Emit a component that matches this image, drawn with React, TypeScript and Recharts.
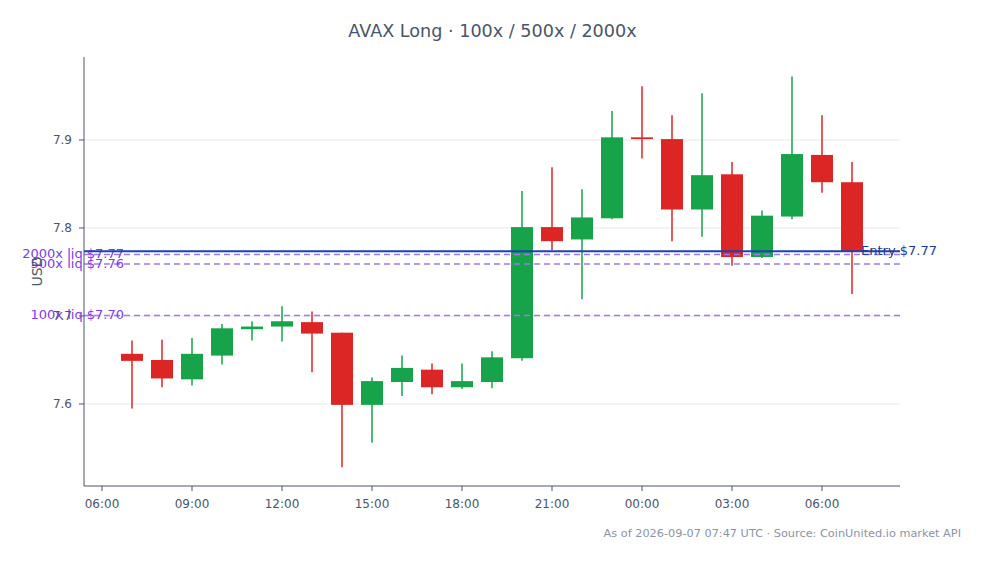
import React from "react";
import { ComposedChart, Bar, XAxis, YAxis, CartesianGrid, ReferenceLine } from "recharts";

const hours = [1, 2, 3, 4, 5, 6, 7, 8, 9, 10, 11, 12, 13, 14, 15, 16, 17, 18, 19, 20, 21, 22, 23, 24, 25];
const opens = [7.657, 7.65, 7.628, 7.655, 7.685, 7.688, 7.693, 7.681, 7.599, 7.625, 7.639, 7.619, 7.625, 7.652, 7.801, 7.787, 7.811, 7.903, 7.901, 7.821, 7.861, 7.767, 7.813, 7.883, 7.852];
const highs = [7.672, 7.673, 7.675, 7.691, 7.694, 7.711, 7.705, 7.681, 7.63, 7.655, 7.646, 7.646, 7.66, 7.842, 7.869, 7.844, 7.933, 7.961, 7.928, 7.953, 7.875, 7.82, 7.972, 7.928, 7.875];
const lows = [7.595, 7.619, 7.621, 7.645, 7.672, 7.671, 7.636, 7.528, 7.556, 7.609, 7.611, 7.617, 7.618, 7.649, 7.775, 7.719, 7.81, 7.879, 7.785, 7.79, 7.757, 7.766, 7.81, 7.84, 7.725];
const closes = [7.649, 7.629, 7.657, 7.686, 7.688, 7.694, 7.68, 7.599, 7.626, 7.641, 7.619, 7.626, 7.653, 7.801, 7.785, 7.812, 7.903, 7.901, 7.821, 7.86, 7.767, 7.814, 7.884, 7.852, 7.773];

const xTicks = [0, 3, 6, 9, 12, 15, 18, 21, 24];
const xTickLabels = ["06:00", "09:00", "12:00", "15:00", "18:00", "21:00", "00:00", "03:00", "06:00"];
const yTicks = [7.6, 7.7, 7.8, 7.9];

const entryPrice = 7.7735;
const entryLabel = "Entry $7.77";
const liqLevels = [7.7005, 7.759, 7.77];
const liqLabels = ["100x liq $7.70", "500x liq $7.76", "2000x liq $7.77"];

const title = "AVAX Long · 100x / 500x / 2000x";
const footer = "As of 2026-09-07 07:47 UTC · Source: CoinUnited.io market API";

const data = hours.map((h, i) => ({
  t: h,
  open: opens[i],
  high: highs[i],
  low: lows[i],
  close: closes[i],
  range: [lows[i], highs[i]],
}));

const GREEN = "#16a34a";
const RED = "#dc2626";
const FONT = "DejaVu Sans, sans-serif";

const Candle = (props: any) => {
  const { x, y, width, height, payload } = props;
  if (x == null || y == null) return null;
  const { open, close, high, low } = payload;
  const span = high - low;
  const pix = (v: number) => (span === 0 ? y : y + ((high - v) / span) * height);
  const up = close >= open;
  const color = up ? GREEN : RED;
  const top = pix(Math.max(open, close));
  const bot = pix(Math.min(open, close));
  const cx = x + width / 2;
  return (
    <g>
      <line x1={cx} x2={cx} y1={y} y2={y + height} stroke={color} strokeWidth={1.5} />
      <rect x={x} y={top} width={width} height={Math.max(bot - top, 1.5)} fill={color} />
    </g>
  );
};

const liqLabel = (text: string) => (p: any) => {
  const vb = p.viewBox || {};
  return (
    <text x={vb.x + 40} y={vb.y} textAnchor="end" dominantBaseline="middle" fill="#7c3aed" fontSize={13} fontFamily={FONT}>
      {text}
    </text>
  );
};

const entryLabelRender = (p: any) => {
  const vb = p.viewBox || {};
  return (
    <text x={vb.x + vb.width - 39} y={vb.y} textAnchor="start" dominantBaseline="middle" fill="#1e3a8a" fontSize={13} fontFamily={FONT}>
      {entryLabel}
    </text>
  );
};

export default function App() {
  return (
    <div style={{ position: "absolute", left: 0, top: 0, width: 985, height: 564, background: "#fff", fontFamily: FONT }}>
      <div style={{ position: "absolute", left: 0, width: 985, top: 21, textAlign: "center", fontSize: 17.6, color: "#4a5568" }}>{title}</div>
      <ComposedChart width={985} height={564} data={data} margin={{ top: 57, right: 85, bottom: 48, left: 24 }}>
        <CartesianGrid vertical={false} horizontalValues={yTicks} stroke="#e8e8ec" strokeWidth={1} />
        <XAxis
          dataKey="t"
          type="number"
          domain={[-0.6, 26.6]}
          ticks={xTicks}
          tickFormatter={(v: number) => xTickLabels[xTicks.indexOf(v)] ?? ""}
          stroke="#4a5568"
          tick={{ fill: "#4a5568", fontSize: 12, fontFamily: FONT }}
          tickSize={5}
          tickMargin={8}
          height={30}
          allowDataOverflow
        />
        <YAxis
          type="number"
          domain={[7.5068, 7.9943]}
          ticks={yTicks}
          tickFormatter={(v: number) => v.toFixed(1)}
          stroke="#4a5568"
          tick={{ fill: "#4a5568", fontSize: 12, fontFamily: FONT }}
          tickSize={5}
          tickMargin={7}
          width={60}
          allowDataOverflow
          label={{ value: "USD", angle: -90, position: "insideLeft", offset: 13, fill: "#4a5568", fontSize: 14, fontFamily: FONT, style: { textAnchor: "middle" } }}
        />
        <Bar dataKey="range" barSize={22} shape={<Candle />} isAnimationActive={false} />
        {liqLevels.map((lv, i) => (
          <ReferenceLine key={i} y={lv} stroke="#9f7aea" strokeWidth={1.5} strokeDasharray="6 4" label={liqLabel(liqLabels[i])} />
        ))}
        <ReferenceLine y={entryPrice} stroke="#1e40af" strokeWidth={2} label={entryLabelRender} />
      </ComposedChart>
      <div style={{ position: "absolute", right: 24, top: 527, fontSize: 11.3, color: "#8a94a3", whiteSpace: "nowrap" }}>{footer}</div>
    </div>
  );
}
